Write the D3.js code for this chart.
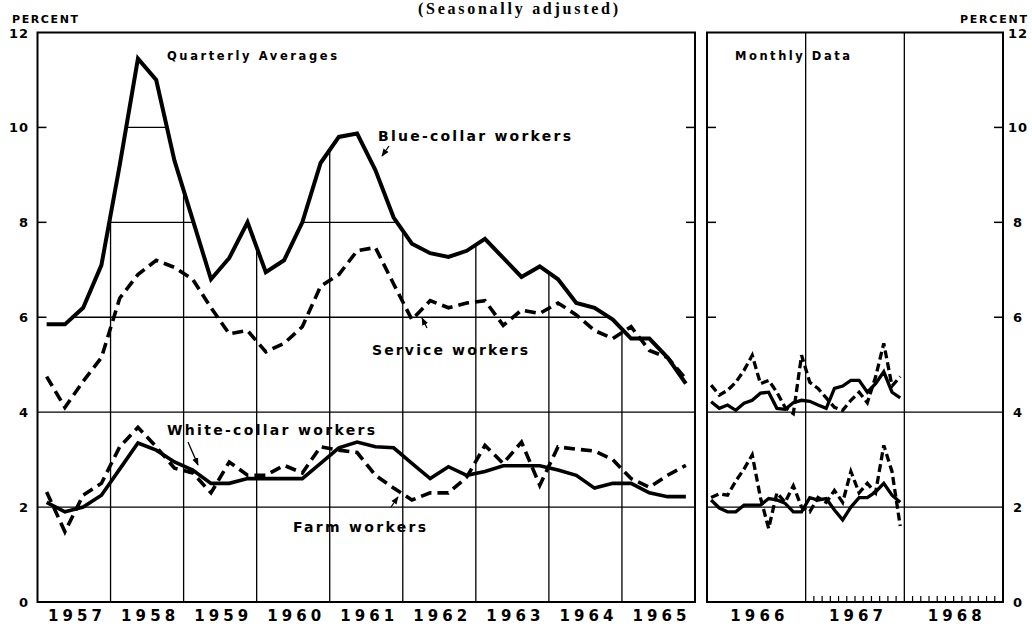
<!DOCTYPE html>
<html>
<head>
<meta charset="utf-8">
<script src="https://cdn.jsdelivr.net/npm/d3@7"></script>
<style>
  body { margin: 0; background: #fff; }
  svg { display: block; }
  text { font-family: "DejaVu Sans", sans-serif; font-weight: bold; fill: #000; }
</style>
</head>
<body>
<div id="wrapper"></div>
<script>
// quarterly averages, 1957 Q1 .. 1965 Q4
const quarterStart = 1957
const blueCollarQ = [5.85, 5.85, 6.2, 7.1, 9.2, 11.45, 11.0, 9.3, 8.05, 6.8, 7.25, 8.0,
    6.95, 7.2, 8.0, 9.25, 9.8, 9.87, 9.1, 8.1, 7.55, 7.35, 7.27, 7.4,
    7.65, 7.25, 6.85, 7.07, 6.8, 6.3, 6.2, 5.95, 5.55, 5.55, 5.15, 4.6]
const serviceQ = [4.75, 4.1, 4.65, 5.15, 6.4, 6.9, 7.2, 7.05, 6.8, 6.2, 5.65, 5.72,
    5.27, 5.45, 5.8, 6.65, 6.9, 7.4, 7.47, 6.7, 5.95, 6.35, 6.2, 6.3,
    6.35, 5.83, 6.15, 6.08, 6.3, 6.05, 5.72, 5.55, 5.8, 5.3, 5.15, 4.7]
const whiteCollarQ = [2.1, 1.9, 2.0, 2.25, 2.8, 3.35, 3.2, 2.95, 2.78, 2.5, 2.5, 2.6,
    2.6, 2.6, 2.6, 2.92, 3.25, 3.37, 3.27, 3.25, 2.92, 2.6, 2.85, 2.67,
    2.75, 2.87, 2.87, 2.87, 2.78, 2.67, 2.4, 2.5, 2.5, 2.3, 2.22, 2.22]
const farmQ = [2.32, 1.48, 2.25, 2.5, 3.27, 3.68, 3.27, 2.82, 2.72, 2.3, 2.95, 2.67,
    2.67, 2.88, 2.72, 3.27, 3.2, 3.15, 2.67, 2.4, 2.15, 2.3, 2.3, 2.63,
    3.3, 2.92, 3.37, 2.46, 3.27, 3.22, 3.18, 3.0, 2.6, 2.42, 2.67, 2.88]

// monthly data, Jan 1966 .. Dec 1967
const monthStart = 1966
const blueCollarM = [4.22, 4.08, 4.15, 4.04, 4.19, 4.25, 4.4, 4.42, 4.08, 4.06, 4.2, 4.25,
    4.23, 4.15, 4.08, 4.5, 4.55, 4.67, 4.67, 4.42, 4.6, 4.85, 4.42, 4.3]
const serviceM = [4.57, 4.36, 4.46, 4.63, 4.88, 5.2, 4.6, 4.67, 4.42, 4.1, 3.97, 5.2,
    4.63, 4.5, 4.3, 4.1, 4.04, 4.25, 4.42, 4.2, 4.74, 5.45, 4.55, 4.75]
const whiteCollarM = [2.15, 1.98, 1.9, 1.9, 2.04, 2.04, 2.04, 2.18, 2.15, 2.08, 1.9, 1.9,
    2.2, 2.15, 2.18, 1.94, 1.73, 2.0, 2.2, 2.2, 2.32, 2.5, 2.25, 2.1]
const farmM = [2.2, 2.28, 2.25, 2.55, 2.8, 3.1, 2.2, 1.55, 2.3, 2.1, 2.45, 2.0,
    1.9, 2.2, 2.1, 2.35, 2.1, 2.75, 2.3, 2.5, 2.3, 3.3, 2.75, 1.6]

const leftYears = [1957, 1958, 1959, 1960, 1961, 1962, 1963, 1964, 1965]
const rightYears = [1966, 1967, 1968]
const yTicks = [0, 2, 4, 6, 8, 10, 12]

const width = 1032, height = 627
const plotTop = 32.5, plotBottom = 602

const svg = d3.select("#wrapper").append("svg")
    .attr("width", width)
    .attr("height", height)

const yScale = d3.scaleLinear().domain([0, 12]).range([plotBottom, plotTop])
const xLeft = d3.scaleLinear().domain([1957, 1966]).range([37.5, 695])
const xRight = d3.scaleLinear().domain([1966, 1969]).range([707, 1003])

const quarterly = arr => arr.map((v, i) => ({ t: quarterStart + (i + 0.5) / 4, v }))
const monthly = arr => arr.map((v, i) => ({ t: monthStart + (i + 0.5) / 12, v }))

// clip: grid only shows below the blue-collar curve
const blueQ = quarterly(blueCollarQ)
const clipPts = [{ t: 1957, v: blueQ[0].v }, ...blueQ, { t: 1966, v: blueQ[blueQ.length - 1].v }]
svg.append("clipPath").attr("id", "under-blue")
    .append("path")
    .attr("d", d3.area()
        .x(d => xLeft(d.t))
        .y0(plotBottom)
        .y1(d => yScale(d.v))(clipPts))

const gridLeft = svg.append("g")
    .attr("clip-path", "url(#under-blue)")
    .attr("stroke", "#000")
    .attr("stroke-width", 1.3)
gridLeft.selectAll("line.h")
    .data(yTicks.filter(d => d > 0 && d < 12))
    .join("line")
    .attr("class", "h")
    .attr("x1", xLeft(1957)).attr("x2", xLeft(1966))
    .attr("y1", d => yScale(d)).attr("y2", d => yScale(d))
gridLeft.selectAll("line.v")
    .data(leftYears.slice(1))
    .join("line")
    .attr("class", "v")
    .attr("x1", d => xLeft(d)).attr("x2", d => xLeft(d))
    .attr("y1", plotTop).attr("y2", plotBottom)

const gridRight = svg.append("g")
    .attr("stroke", "#000")
    .attr("stroke-width", 1.3)
gridRight.selectAll("line.h")
    .data([2, 4])
    .join("line")
    .attr("class", "h")
    .attr("x1", xRight(1966)).attr("x2", xRight(1969))
    .attr("y1", d => yScale(d)).attr("y2", d => yScale(d))
gridRight.selectAll("line.v")
    .data(rightYears.slice(1))
    .join("line")
    .attr("class", "v")
    .attr("x1", d => xRight(d)).attr("x2", d => xRight(d))
    .attr("y1", plotTop).attr("y2", plotBottom)

// monthly ticks along the bottom of 1967-68
const monthTicks = d3.range(1967, 1969, 1 / 12).filter(d => Math.abs(d - Math.round(d)) > 0.01)
svg.append("g").attr("stroke", "#000").attr("stroke-width", 1.2)
    .selectAll("line")
    .data(monthTicks)
    .join("line")
    .attr("x1", d => xRight(d)).attr("x2", d => xRight(d))
    .attr("y1", plotBottom).attr("y2", plotBottom - 6)

// panel frames
function frame(x) {
    svg.append("rect")
        .attr("x", x.range()[0]).attr("y", plotTop)
        .attr("width", x.range()[1] - x.range()[0])
        .attr("height", plotBottom - plotTop)
        .attr("fill", "none")
        .attr("stroke", "#000")
        .attr("stroke-width", 2)
    // inward ticks on both sides
    const sides = [[x.range()[0], 9], [x.range()[1], -9]]
    sides.forEach(([sx, len]) => {
        svg.append("g").attr("stroke", "#000").attr("stroke-width", 1.5)
            .selectAll("line")
            .data([6, 8, 10])
            .join("line")
            .attr("x1", sx).attr("x2", sx + len)
            .attr("y1", d => yScale(d)).attr("y2", d => yScale(d))
    })
}
frame(xLeft)
frame(xRight)

// series
function drawLine(data, x, dash, w) {
    svg.append("path")
        .datum(data)
        .attr("fill", "none")
        .attr("stroke", "#000")
        .attr("stroke-width", w)
        .attr("stroke-linejoin", "miter")
        .attr("stroke-dasharray", dash)
        .attr("d", d3.line().x(d => x(d.t)).y(d => yScale(d.v)))
}
drawLine(quarterly(serviceQ), xLeft, "11,6", 3.6)
drawLine(quarterly(farmQ), xLeft, "11,6", 3.6)
drawLine(quarterly(whiteCollarQ), xLeft, null, 3.6)
drawLine(blueQ, xLeft, null, 4)

drawLine(monthly(serviceM), xRight, "8,4", 3.3)
drawLine(monthly(farmM), xRight, "8,4", 3.3)
drawLine(monthly(whiteCollarM), xRight, null, 3.3)
drawLine(monthly(blueCollarM), xRight, null, 3.3)

// y labels
svg.append("g").selectAll("text")
    .data(yTicks)
    .join("text")
    .attr("x", 29).attr("y", d => yScale(d) + 5)
    .attr("text-anchor", "end")
    .attr("font-size", 13)
    .attr("letter-spacing", 1)
    .text(d => d)
svg.append("g").selectAll("text")
    .data(yTicks)
    .join("text")
    .attr("x", 1018).attr("y", d => yScale(d) + 5)
    .attr("text-anchor", "middle")
    .attr("font-size", 13)
    .attr("letter-spacing", 1)
    .text(d => d)

// year labels
function yearLabels(years, x) {
    svg.append("g").selectAll("text")
        .data(years)
        .join("text")
        .attr("x", d => x(d + 0.5) + 1)
        .attr("y", 621)
        .attr("text-anchor", "middle")
        .attr("font-size", 15)
        .attr("textLength", 54)
        .attr("lengthAdjust", "spacing")
        .text(d => d)
}
yearLabels(leftYears, xLeft)
yearLabels(rightYears, xRight)

// titles and annotations
function label(txt, x, y, size, len) {
    svg.append("text")
        .attr("x", x).attr("y", y)
        .attr("font-size", size)
        .attr("textLength", len)
        .attr("lengthAdjust", "spacing")
        .text(txt)
}
label("PERCENT", 12, 23, 11, 66)
label("PERCENT", 960, 23, 11, 67)
svg.append("text")
    .attr("x", 418).attr("y", 14)
    .style("font-family", "'Liberation Serif', serif")
    .attr("font-size", 16)
    .attr("textLength", 200)
    .attr("lengthAdjust", "spacing")
    .text("(Seasonally adjusted)")
label("Quarterly Averages", 167, 60, 11.5, 170)
label("Monthly Data", 735, 60, 11.5, 115)
label("Blue-collar workers", 378, 141, 14, 193)
label("Service workers", 372, 355, 14, 156)
label("White-collar workers", 167, 435, 14, 208)
label("Farm workers", 293, 532, 14, 133)

svg.append("defs").append("marker")
    .attr("id", "arrow")
    .attr("viewBox", "0 0 10 10")
    .attr("refX", 9).attr("refY", 5)
    .attr("markerWidth", 6).attr("markerHeight", 6)
    .attr("orient", "auto")
    .append("path")
    .attr("d", "M0,1 L10,5 L0,9 Z")
    .attr("fill", "#000")

const arrows = [
    [389, 146, 382, 156],
    [427, 328, 422, 318],
    [188, 442, 198, 465],
    [391, 507, 398, 497]
]
svg.append("g").selectAll("line")
    .data(arrows)
    .join("line")
    .attr("x1", d => d[0]).attr("y1", d => d[1])
    .attr("x2", d => d[2]).attr("y2", d => d[3])
    .attr("stroke", "#000")
    .attr("stroke-width", 1.3)
    .attr("marker-end", "url(#arrow)")
</script>
</body>
</html>
